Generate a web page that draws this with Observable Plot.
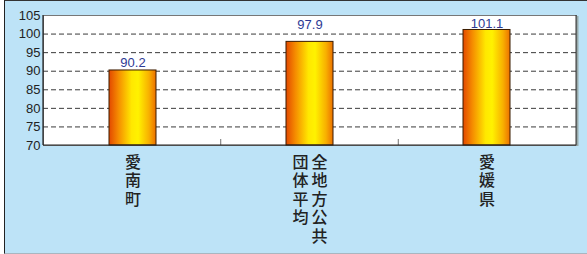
<!DOCTYPE html>
<html>
<head>
<meta charset="utf-8">
<script src="https://cdn.jsdelivr.net/npm/d3@7"></script>
<script src="https://cdn.jsdelivr.net/npm/@observablehq/plot@0.6"></script>
<style>
  html, body { margin: 0; padding: 0; background: #ffffff; }
  #wrap {
    position: absolute; left: 4px; top: 0;
    width: 582px; height: 252px;
    background: #bde3f7;
    border-left: 1px solid #222;
    border-top: 1px solid #333;
    border-bottom: 1px solid #a9b6c0;
  }
  #wrap svg { display: block; }
</style>
</head>
<body>
<div id="wrap"></div>
<script>
// ---- data ----
const categories = ["愛南町", "全地方公共団体平均", "愛媛県"];
const values = [90.2, 97.9, 101.1];
const yDomain = [70, 105];
const yTicks = [70, 75, 80, 85, 90, 95, 100, 105];
const gridValues = [75, 80, 85, 90, 95, 100];
const charsPerColumn = 5;

const data = categories.map((c, i) => ({cat: c, value: values[i]}));

// vertical label columns (right-to-left, like vertical Japanese text)
const labelCols = categories.flatMap(c => {
  const chunks = c.match(new RegExp(`.{1,${charsPerColumn}}`, "gu"));
  return chunks.map((t, i) => ({cat: c, text: [...t].join("\n"), off: (chunks.length - 1) / 2 - i}));
});
const offsets = [...new Set(labelCols.map(d => d.off))];

const colStep = 19;
// value-label lift above each bar (label for the middle bar sits above the 100 gridline)
const labelLift = {"愛南町": -3, "全地方公共団体平均": -13, "愛媛県": -2};

// gradient defs for bars
const defs = () => {
  const g = d3.create("svg:defs");
  const lg = g.append("linearGradient").attr("id", "barGrad").attr("x1", "0").attr("x2", "1").attr("y1", "0").attr("y2", "0");
  [[0, "#e34800"], [0.2, "#f58c00"], [0.48, "#ffe800"], [0.62, "#fff200"], [0.85, "#f8b000"], [1, "#ec7000"]]
    .forEach(([o, c]) => lg.append("stop").attr("offset", o).attr("stop-color", c));
  return g.node();
};

// axis lines, boundary ticks
const decor = (index, scales, values, dims) => {
  const g = d3.create("svg:g");
  const L = dims.marginLeft, R = dims.width - dims.marginRight;
  const T = dims.marginTop, B = dims.height - dims.marginBottom;
  const step = (R - L) / categories.length;
  for (let i = 1; i < categories.length; i++) {
    const x = L + i * step;
    g.append("line").attr("x1", x).attr("x2", x).attr("y1", B - 6).attr("y2", B).attr("stroke", "#888").attr("stroke-width", 1.2);
  }
  g.append("line").attr("x1", R + 1.5).attr("x2", R + 1.5).attr("y1", T + 1).attr("y2", B + 1).attr("stroke", "#9aa").attr("stroke-width", 2);
  g.append("line").attr("x1", R).attr("x2", R).attr("y1", T).attr("y2", B).attr("stroke", "#333").attr("stroke-width", 1);
  g.append("line").attr("x1", L).attr("x2", L).attr("y1", T).attr("y2", B).attr("stroke", "#222").attr("stroke-width", 1.2);
  g.append("line").attr("x1", L).attr("x2", R).attr("y1", B).attr("y2", B).attr("stroke", "#222").attr("stroke-width", 1.2);
  return g.node();
};

const chart = Plot.plot({
  width: 582,
  height: 252,
  marginLeft: 38,
  marginRight: 11,
  marginTop: 14,
  marginBottom: 108,
  style: {background: "transparent", fontFamily: "'Liberation Sans', Arial, sans-serif", overflow: "visible"},
  x: {type: "band", domain: categories, padding: 0, axis: null},
  y: {domain: yDomain, axis: null},
  marks: [
    defs,
    Plot.frame({fill: "#ffffff", stroke: "#777"}),
    Plot.ruleY(gridValues, {stroke: "#3a3a3a", strokeDasharray: "5,3", strokeWidth: 1}),
    Plot.barY(data, {x: "cat", y1: yDomain[0], y2: "value", fill: "url(#barGrad)", stroke: "#3a1c00", strokeWidth: 1, insetLeft: 65, insetRight: 65}),
    decor,
    Plot.axisY({ticks: yTicks, tickSize: 0, tickPadding: 3, fontSize: 13, fill: "#222", label: null}),
    ...data.map(d => Plot.text([d], {x: "cat", y: "value", text: d => d.value.toFixed(1), dy: labelLift[d.cat], lineAnchor: "bottom", fill: "#2d3a94", fontSize: 13})),
    ...offsets.map(off => Plot.text(labelCols.filter(d => d.off === off), {
      x: "cat", text: "text", frameAnchor: "bottom", lineAnchor: "top", dy: 9, dx: off * colStep,
      fontSize: 16, lineHeight: 1.16, fontWeight: 500, fill: "#222", fontFamily: "'Noto Sans CJK JP', sans-serif"
    }))
  ]
});
document.getElementById("wrap").appendChild(chart);
</script>
</body>
</html>
